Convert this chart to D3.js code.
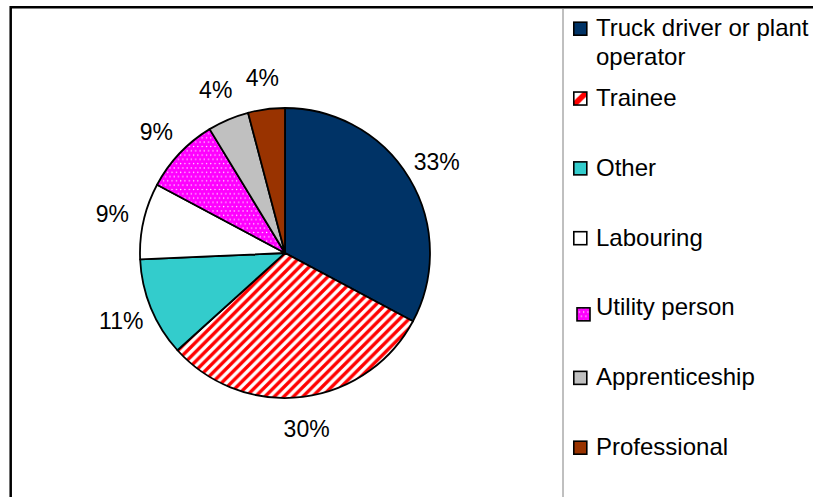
<!DOCTYPE html>
<html>
<head>
<meta charset="utf-8">
<script src="https://cdn.jsdelivr.net/npm/d3@7"></script>
<style>
  body { margin: 0; background: #fff; }
  svg text { font-family: "Liberation Sans", Arial, sans-serif; fill: #000; }
</style>
</head>
<body>
<div id="chart"></div>
<script>
// values (share of the pie, in %)
var categories = ["Truck driver or plant operator", "Trainee", "Other", "Labouring", "Utility person", "Apprenticeship", "Professional"];
var shares = [32.8, 30.5, 11.0, 8.5, 8.5, 4.6, 4.1];
var pctLabels = ["33%", "30%", "11%", "9%", "9%", "4%", "4%"];
var legendLines = [["Truck driver or plant", "operator"], ["Trainee"], ["Other"], ["Labouring"], ["Utility person"], ["Apprenticeship"], ["Professional"]];
var fills = ["#003366", "url(#stripes)", "#33CCCC", "#FFFFFF", "url(#dots)", "#C0C0C0", "#993300"];
var keyFills = ["#003366", "url(#stripeKey)", "#33CCCC", "#FFFFFF", "url(#dots)", "#C0C0C0", "#993300"];

var width = 813, height = 497;
var cx = 285, cy = 253, radius = 145;

var svg = d3.select("#chart").append("svg")
  .attr("width", width)
  .attr("height", height);

svg.append("rect").attr("width", width).attr("height", height).attr("fill", "#fff");

var defs = svg.append("defs");

// red "wide upward diagonal" hatch
var p = 9.5;
var stripes = defs.append("pattern")
  .attr("id", "stripes")
  .attr("patternUnits", "userSpaceOnUse")
  .attr("width", p).attr("height", p);
stripes.append("rect").attr("width", p).attr("height", p).attr("fill", "#fff");
stripes.append("path")
  .attr("d", `M-2,${p + 2} L${p + 2},-2 M-${p / 2 + 2},${p / 2 + 2} L${p / 2 + 2},-${p / 2 + 2} M${p / 2 - 2},${p * 1.5 + 2} L${p * 1.5 + 2},${p / 2 - 2}`)
  .attr("stroke", "#FF0000")
  .attr("stroke-width", 3.4);

// legend key for the hatch: one thick band
var stripeKey = defs.append("pattern")
  .attr("id", "stripeKey")
  .attr("patternUnits", "objectBoundingBox")
  .attr("patternContentUnits", "objectBoundingBox")
  .attr("width", 1).attr("height", 1);
stripeKey.append("rect").attr("width", 1).attr("height", 1).attr("fill", "#fff");
stripeKey.append("polygon")
  .attr("points", "0,0.7 0.7,0 1,0 1,0.3 0.3,1 0,1")
  .attr("fill", "#FF0000");

// magenta with small white dots
var dots = defs.append("pattern")
  .attr("id", "dots")
  .attr("patternUnits", "userSpaceOnUse")
  .attr("width", 4.3).attr("height", 8.6);
dots.append("rect").attr("width", 4.3).attr("height", 8.6).attr("fill", "#FF00FF");
dots.append("circle").attr("cx", 1).attr("cy", 1).attr("r", 0.7).attr("fill", "#fff");
dots.append("circle").attr("cx", 3.15).attr("cy", 5.3).attr("r", 0.7).attr("fill", "#fff");

// chart frame (right and bottom edges fall outside the picture)
svg.append("path")
  .attr("d", "M10.7," + height + " V7.3 H" + width)
  .attr("fill", "none")
  .attr("stroke", "#000")
  .attr("stroke-width", 2.5);

// plot area / legend divider
svg.append("line")
  .attr("x1", 563).attr("x2", 563)
  .attr("y1", 8).attr("y2", height)
  .attr("stroke", "#808080")
  .attr("stroke-width", 1);

var pie = d3.pie().sort(null).value(d => d);
var arcs = pie(shares);

var arc = d3.arc().innerRadius(0).outerRadius(radius);
var labelArc = d3.arc().innerRadius(177).outerRadius(177);

var g = svg.append("g")
  .attr("transform", `translate(${cx}, ${cy})`);

g.selectAll(".slice")
  .data(arcs)
  .enter()
  .append("path")
  .attr("class", "slice")
  .attr("d", arc)
  .attr("fill", (d, i) => fills[i])
  .attr("stroke", "#000")
  .attr("stroke-width", 1.8)
  .attr("stroke-linejoin", "round");

g.selectAll(".pct")
  .data(arcs)
  .enter()
  .append("text")
  .attr("class", "pct")
  .attr("transform", d => `translate(${labelArc.centroid(d)})`)
  .attr("text-anchor", "middle")
  .attr("dy", "0.36em")
  .style("font-size", "23px")
  .text((d, i) => pctLabels[i]);

// legend
var rowY = d3.scaleLinear().domain([0, categories.length - 1]).range([36, 455]);

var items = svg.selectAll(".key")
  .data(categories)
  .enter()
  .append("g")
  .attr("class", "key")
  .attr("transform", (d, i) => `translate(0, ${rowY(i)})`);

items.append("rect")
  .attr("x", (d, i) => d === "Utility person" ? 577 : 573.8)
  .attr("y", (d, i) => d === "Utility person" ? -7.5 : -13.8)
  .attr("width", 13)
  .attr("height", 13)
  .attr("fill", (d, i) => keyFills[i])
  .attr("stroke", "#000")
  .attr("stroke-width", 1.6);

items.append("text")
  .attr("x", 596)
  .style("font-size", "24px")
  .selectAll("tspan")
  .data((d, i) => legendLines[i])
  .enter()
  .append("tspan")
  .attr("x", 596)
  .attr("dy", (d, j) => j === 0 ? 0 : 29)
  .text(d => d);
</script>
</body>
</html>
